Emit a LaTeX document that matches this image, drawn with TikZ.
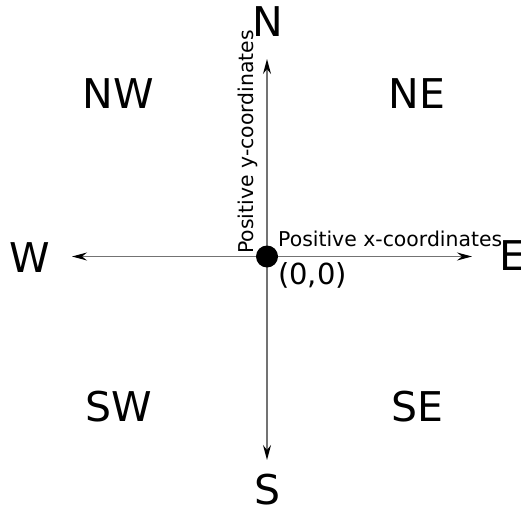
\documentclass[tikz,border=0pt]{standalone}
\usepackage{fontspec}
\setmainfont{DejaVu Sans}
\usetikzlibrary{arrows.meta}
\begin{document}
\begin{tikzpicture}[x=1pt,y=-1pt,
  axis/.style={draw=black!55, line width=1.4pt, -{Stealth[length=15pt,width=8pt,inset=5pt,color=black]}},
  big/.style={inner sep=0pt, anchor=base, font=\fontsize{41}{45}\selectfont},
  small/.style={inner sep=0pt, font=\fontsize{20.4}{24}\selectfont},
  mid/.style={inner sep=0pt, font=\fontsize{29}{32}\selectfont}]
\useasboundingbox (0,0) rectangle (521,508);
\coordinate (O) at (267,256.5);
\coordinate (Nend) at (267,59);
\coordinate (Send) at (267,460);
\coordinate (Wend) at (72,256.5);
\coordinate (Eend) at (472,256.5);
\draw[axis] (O) -- (Nend);
\draw[axis] (O) -- (Send);
\draw[axis] (O) -- (Wend);
\draw[axis] (O) -- (Eend);
\fill[black] (O) circle (11);
\node[big] (N) at (267.5,37) {N};
\node[big] (S) at (267.5,504) {S};
\node[big] (W) at (30,272) {W};
\node[big, anchor=base west] (E) at (499,270) {E};
\node[big] (NW) at (118.5,108) {NW};
\node[big] (NE) at (417,108) {NE};
\node[big] (SW) at (118.5,421) {SW};
\node[big] (SE) at (417.5,421) {SE};
\node[small, anchor=base west] (xl) at (278,246.7) {Positive x-coordinates};
\node[small, anchor=base west, rotate=90] (yl) at (253,254) {Positive y-coordinates};
\node[mid, anchor=base west] (org) at (278,284) {(0,0)};
\end{tikzpicture}
\end{document}
